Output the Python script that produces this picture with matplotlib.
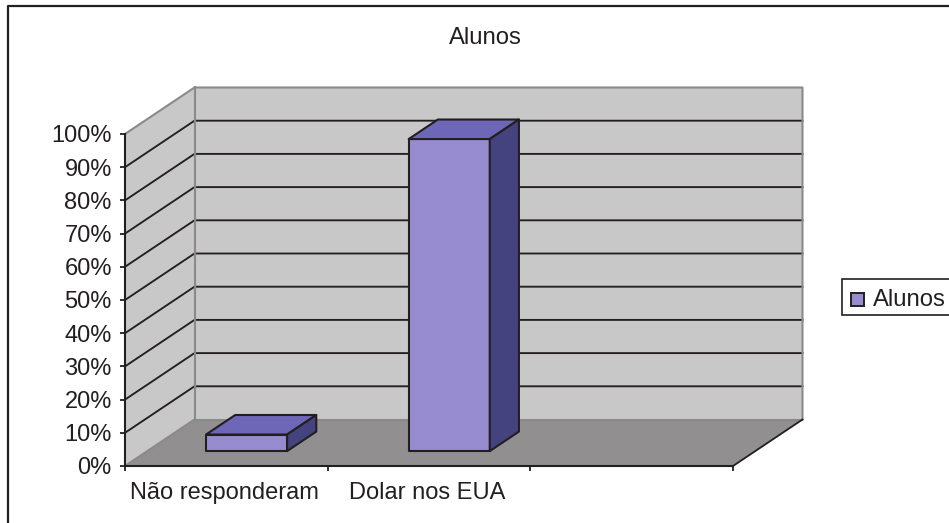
import matplotlib
matplotlib.use("Agg")
import matplotlib.pyplot as plt
from matplotlib.patches import Polygon, Rectangle
from matplotlib.lines import Line2D

categories = ["Não responderam", "Dolar nos EUA"]
values = [5, 94]
yticks = list(range(0, 101, 10))
ytick_labels = [f"{v}%" for v in yticks]
series_name = "Alunos"

W, H = 949, 523
L, R, T, B = 125, 733, 134, 466
DX_PX, DY_PX = 69.5, 46.5
plt.rcParams['font.family'] = ['Liberation Sans', 'DejaVu Sans']
TXT = "#231f20"
WALL, FLOOR, EDGE = "#c8c8c8", "#918f8f", "#8a8a8a"
FRONT, TOP, SIDE = "#968ccf", "#6e66b6", "#444380"

fig = plt.figure(figsize=(W / 100, H / 100), dpi=100, facecolor="white")
ax = fig.add_axes([L / W, 1 - B / H, (R - L) / W, (B - T) / H])
ax.set_xlim(0, 3)
ax.set_ylim(0, 100)
ax.patch.set_visible(False)

dxu = DX_PX / (R - L) * 3
dyu = DY_PX / (B - T) * 100


def P(x, y, z):
    return (x + z * dxu, y + z * dyu)


def poly(pts, fc, ec="none", lw=0, z=2):
    ax.add_patch(Polygon(pts, closed=True, fc=fc, ec=ec, lw=lw, zorder=z,
                         clip_on=False, joinstyle="round"))


# walls and floor
poly([P(0, 0, 0), P(0, 100, 0), P(0, 100, 1), P(0, 0, 1)], WALL, z=1)
poly([P(0, 0, 1), P(0, 100, 1), P(3, 100, 1), P(3, 0, 1)], WALL, z=1)
poly([P(0, 0, 0), P(3, 0, 0), P(3, 0, 1), P(0, 0, 1)], FLOOR, z=1)

for v in yticks[1:-1]:
    a, b, c = P(0, v, 0), P(0, v, 1), P(3, v, 1)
    ax.plot([a[0], b[0], c[0]], [a[1], b[1], c[1]], color=TXT, lw=1.35,
            zorder=1.5, clip_on=False, solid_joinstyle="miter")

edges = [[P(0, 100, 0), P(0, 100, 1), P(3, 100, 1), P(3, 0, 1)],
         [P(0, 100, 1), P(0, 0, 1), P(3, 0, 1)],
         [P(0, 0, 0), P(0, 0, 1)]]
for e in edges:
    ax.plot(*zip(*e), color=EDGE, lw=1.5, zorder=1.6, clip_on=False)
a, b = P(3, 0, 0), P(3, 0, 1)
ax.plot([a[0], b[0]], [a[1], b[1]], color=TXT, lw=1.3, zorder=1.7, clip_on=False)

# bars
BW, Z0, Z1 = 0.40, 0.32, 0.74
for i, v in enumerate(values):
    x0, x1 = i + 0.49 - BW / 2, i + 0.49 + BW / 2
    e = dict(ec=TXT, lw=1.5, z=3)
    poly([P(x0, 0, Z0), P(x1, 0, Z0), P(x1, v, Z0), P(x0, v, Z0)], FRONT, **e)
    poly([P(x0, v, Z0), P(x1, v, Z0), P(x1, v, Z1), P(x0, v, Z1)], TOP, **e)
    poly([P(x1, 0, Z0), P(x1, 0, Z1), P(x1, v, Z1), P(x1, v, Z0)], SIDE, **e)

# axes
for s in ("top", "right"):
    ax.spines[s].set_visible(False)
for s in ("left", "bottom"):
    ax.spines[s].set_color(TXT)
    ax.spines[s].set_linewidth(1.5)
ax.set_yticks(yticks, ytick_labels, fontsize=17, color=TXT)
ax.set_xticks([0, 1, 2, 3], [""] * 4)
ax.tick_params(axis="both", direction="out", color=TXT, width=1.3, length=3.5)
ax.tick_params(axis="y", pad=6)
for i, c in enumerate(categories):
    ax.annotate(c, xy=(i + 0.49, 0), xytext=(0, -16), textcoords="offset pixels",
                ha="center", va="top", fontsize=17, color=TXT, annotation_clip=False)

# title and outer frame
fig.text(485.5 / W, 1 - 37.5 / H, series_name, ha="center", va="center", fontsize=17.2, color=TXT)
fig.add_artist(Line2D([8 / W, 8 / W, 1], [0, 1 - 6 / H, 1 - 6 / H], color=TXT, lw=1.6))

# legend
fig.add_artist(Rectangle((842 / W, 1 - 315 / H), 110 / W, 36 / H, fc="white", ec=TXT, lw=1.2,
                         transform=fig.transFigure))
fig.add_artist(Rectangle((851 / W, 1 - 306 / H), 13 / W, 13 / H, fc=FRONT, ec=TXT, lw=1.4,
                         transform=fig.transFigure))
fig.text(873 / W, 1 - 300 / H, series_name, ha="left", va="center", fontsize=17.2, color=TXT)

fig.savefig("out.png", dpi=100)
